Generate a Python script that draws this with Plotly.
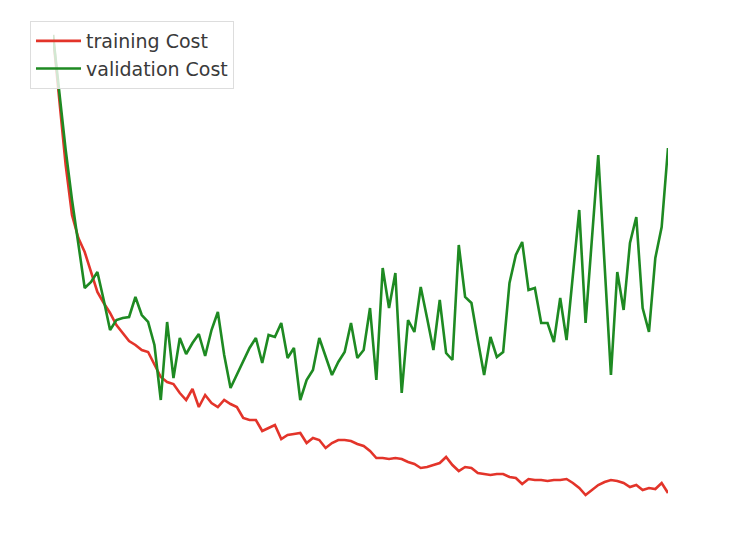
import plotly.graph_objects as go

# epochs and cost curves
epochs = list(range(98))

training_cost = [
    4.85, 4.20, 3.55, 3.05, 2.82, 2.68, 2.48, 2.28, 2.17, 2.07,
    1.95, 1.87, 1.79, 1.75, 1.70, 1.68, 1.55, 1.43, 1.38, 1.36,
    1.27, 1.20, 1.31, 1.13, 1.25, 1.17, 1.13, 1.20, 1.16, 1.13,
    1.02, 1.00, 1.00, 0.89, 0.92, 0.95, 0.81, 0.85, 0.86, 0.87,
    0.77, 0.82, 0.80, 0.72, 0.77, 0.80, 0.80, 0.79, 0.76, 0.74,
    0.69, 0.62, 0.62, 0.61, 0.62, 0.61, 0.58, 0.56, 0.52, 0.53,
    0.55, 0.57, 0.63, 0.55, 0.49, 0.53, 0.52, 0.47, 0.46, 0.45,
    0.46, 0.46, 0.43, 0.42, 0.36, 0.41, 0.40, 0.40, 0.39, 0.40,
    0.40, 0.41, 0.37, 0.32, 0.25, 0.30, 0.35, 0.38, 0.40, 0.39,
    0.37, 0.33, 0.35, 0.30, 0.32, 0.31, 0.37, 0.27,
]

validation_cost = [
    4.85, 4.25, 3.70, 3.20, 2.75, 2.32, 2.38, 2.48, 2.20, 1.90,
    2.00, 2.02, 2.03, 2.23, 2.05, 1.98, 1.75, 1.20, 1.98, 1.42,
    1.82, 1.66, 1.77, 1.86, 1.64, 1.90, 2.08, 1.65, 1.32, 1.45,
    1.58, 1.72, 1.82, 1.57, 1.85, 1.83, 1.97, 1.62, 1.72, 1.20,
    1.40, 1.50, 1.82, 1.63, 1.45, 1.58, 1.68, 1.97, 1.62, 1.70,
    2.12, 1.40, 2.52, 2.12, 2.47, 1.27, 2.00, 1.88, 2.33, 2.02,
    1.70, 2.20, 1.67, 1.60, 2.75, 2.23, 2.17, 1.80, 1.45, 1.83,
    1.63, 1.68, 2.37, 2.65, 2.78, 2.30, 2.32, 1.97, 1.97, 1.78,
    2.22, 1.80, 2.45, 3.10, 1.97, 2.80, 3.65, 2.55, 1.45, 2.48,
    2.10, 2.77, 3.03, 2.12, 1.88, 2.62, 2.93, 3.72,
]

fig = go.Figure()

fig.add_trace(
    go.Scatter(
        x=epochs,
        y=training_cost,
        name="training Cost",
        mode="lines",
        legendgroup="train",
        line=dict(color="#e3342a", width=2.6),
    )
)
fig.add_trace(
    go.Scatter(
        x=epochs,
        y=validation_cost,
        name="validation Cost",
        mode="lines",
        legendgroup="valid",
        line=dict(color="#1e8a22", width=2.6),
    )
)

# axes are switched off, like plt.axis('off')
fig.update_xaxes(visible=False, range=[0, 97])
fig.update_yaxes(visible=False, range=[0, 5])

# the page body adds 8px on the top and left, so margins are trimmed by that
fig.update_layout(
    width=752,
    height=536,
    margin=dict(l=45, r=92, t=12, b=24, autoexpand=False),
    plot_bgcolor="white",
    paper_bgcolor="white",
    font=dict(family="DejaVu Sans", size=19, color="#3a3a3a"),
    legend=dict(
        xref="container",
        yref="container",
        x=22 / 752,
        y=1 - 13 / 536,
        xanchor="left",
        yanchor="top",
        bgcolor="rgba(255,255,255,0.8)",
        bordercolor="#dddddd",
        borderwidth=1,
        itemwidth=45,
        tracegroupgap=0,
    ),
)

fig.write_html("out.html")
